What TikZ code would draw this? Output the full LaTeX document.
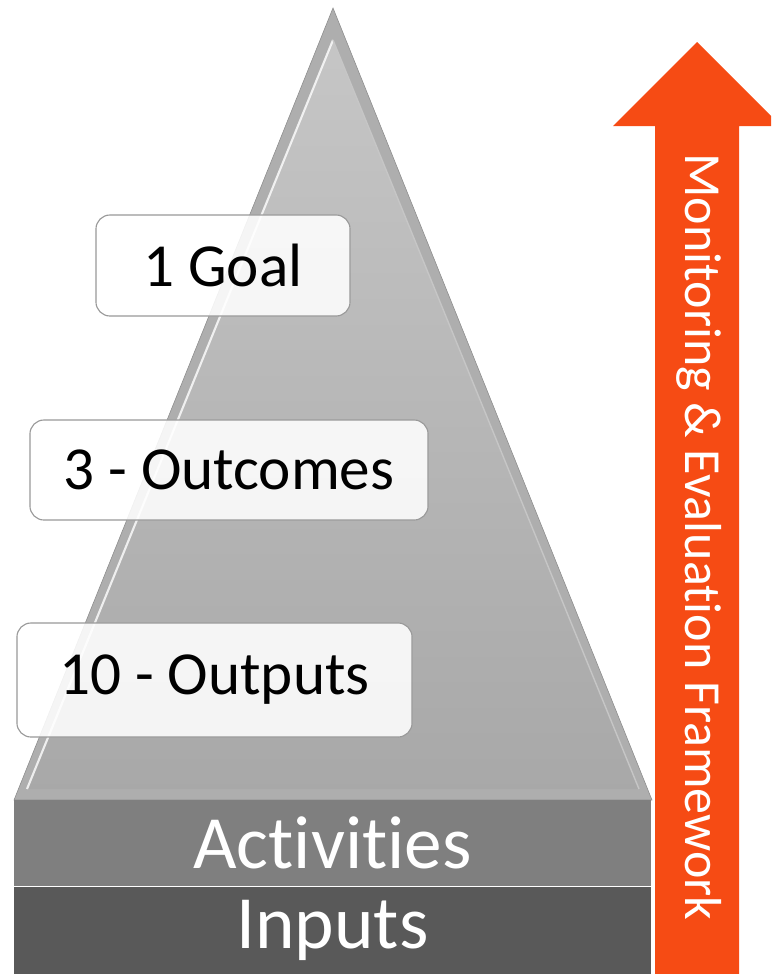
\documentclass[tikz,border=0pt]{standalone}
\usepackage{fontspec}
\setmainfont[Ligatures=NoCommon]{Carlito}
\usetikzlibrary{positioning}

\definecolor{mearrow}{RGB}{246,75,20}
\definecolor{actgray}{RGB}{127,127,127}
\definecolor{inpgray}{RGB}{89,89,89}
\definecolor{triedge}{RGB}{140,140,140}

\begin{document}
\begin{tikzpicture}[
x=0.025cm, y=-0.025cm,
levelbox/.style={draw=gray!80, thick, rounded corners=10pt, fill=white, fill opacity=0.88, text opacity=1, font=\fontsize{43.5}{50}\selectfont, inner sep=0pt},
basebar/.style={inner sep=0pt, minimum width=15.925cm, text=white, font=\fontsize{53.5}{60}\selectfont},
]
\useasboundingbox (0,0) rectangle (771,974);
\clip (0,0) rectangle (771,974);
% pyramid
\coordinate (apex) at (333,8);
\coordinate (bl) at (14,800);
\coordinate (br) at (652,800);
\fill[triedge!70!white, draw=triedge] (apex) -- (bl) -- (br) -- cycle;
\shade[top color=gray!45, bottom color=gray!68] (333,40) -- (27,789) -- (639,789) -- cycle;
\draw[white, opacity=0.8, line width=1.5pt] (333,40) -- (27,789);
\draw[gray!45, line width=1pt] (333,40) -- (639,789);
% levels
\node[levelbox, minimum width=6.35cm, minimum height=2.525cm] (goal) at (223,265.5) {1 Goal};
\node[levelbox, minimum width=9.95cm, minimum height=2.5cm] (outcomes) at (229,470) {3 - Outcomes};
\node[levelbox, minimum width=9.875cm, minimum height=2.85cm] (outputs) at (214.5,680) {10 - Outputs};
% base
\node[basebar, fill=actgray, minimum height=2.15cm] (activities) at (332.5,843) {Activities};
\node[basebar, fill=inpgray, minimum height=2.2cm, below=0pt of activities] (inputs) {Inputs};
% M&E arrow
\fill[mearrow] (697,42) -- (781,126) -- (739,126) -- (739,980) -- (655,980) -- (655,126) -- (613,126) -- cycle;
\node[rotate=-90, text=white, font=\fontsize{37}{44}\selectfont] (me) at (699,537) {Monitoring \& Evaluation Framework};
\end{tikzpicture}
\end{document}
